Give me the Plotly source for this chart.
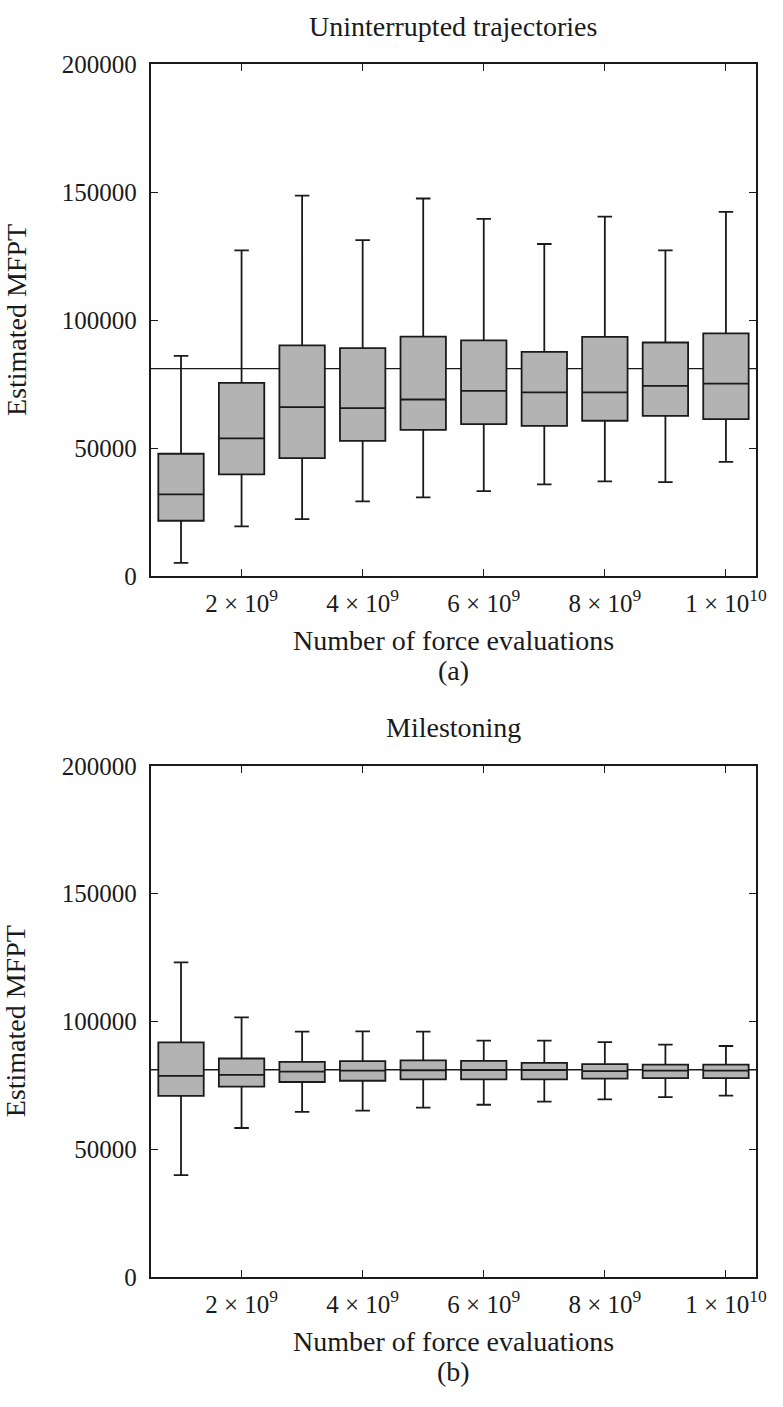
import plotly.graph_objects as go

# ---- data ----
force_evals = [1e9, 2e9, 3e9, 4e9, 5e9, 6e9, 7e9, 8e9, 9e9, 1e10]
ref_mfpt = 81100

# (a) Uninterrupted trajectories
a_lower = [5100, 19400, 22200, 29200, 30700, 33200, 35800, 37000, 36700, 44600]
a_q1 = [21600, 39700, 46100, 52800, 57100, 59400, 58700, 60700, 62600, 61300]
a_median = [31900, 53800, 66000, 65600, 69000, 72400, 71800, 71800, 74300, 75200]
a_q3 = [47800, 75500, 90200, 89100, 93600, 92100, 87600, 93500, 91300, 94900]
a_upper = [86100, 127300, 148700, 131300, 147600, 139600, 129800, 140500, 127300, 142400]

# (b) Milestoning
b_lower = [39900, 58300, 64600, 65100, 66300, 67400, 68600, 69500, 70400, 71000]
b_q1 = [70900, 74500, 76300, 76800, 77300, 77300, 77300, 77600, 77800, 77800]
b_median = [78700, 79100, 80400, 80800, 80900, 81000, 81000, 80600, 80800, 80800]
b_q3 = [91800, 85500, 84200, 84500, 84800, 84600, 83800, 83300, 83100, 83100]
b_upper = [123100, 101600, 96000, 96100, 96000, 92500, 92500, 91900, 90900, 90400]

x_tickvals = [2e9, 4e9, 6e9, 8e9, 1e10]
x_ticktext = ["2 × 10<sup>9</sup>", "4 × 10<sup>9</sup>", "6 × 10<sup>9</sup>",
              "8 × 10<sup>9</sup>", "1 × 10<sup>10</sup>"]
y_tickvals = [0, 50000, 100000, 150000, 200000]
y_ticktext = ["0", "50000", "100000", "150000", "200000"]

titles = ["Uninterrupted trajectories", "Milestoning"]
panel_labels = ["(a)", "(b)"]
x_title = "Number of force evaluations"
y_title = "Estimated MFPT"

# ---- layout constants ----
W, H = 783, 1407
FONT = "Liberation Serif, Times New Roman, serif"
INK = "#1a1a1a"
px_left, px_right = 152.7, 766.0
panels_px = [(52.5, 574.0), (767.7, 1288.7)]


def py(y):
    return 1 - y / H


fig = go.Figure()

series = [
    (a_lower, a_q1, a_median, a_q3, a_upper),
    (b_lower, b_q1, b_median, b_q3, b_upper),
]

annotations = []
shapes = []
for i, (lo, q1, med, q3, up) in enumerate(series):
    sfx = "" if i == 0 else str(i + 1)
    fig.add_trace(go.Box(
        x=force_evals, q1=q1, median=med, q3=q3,
        lowerfence=lo, upperfence=up,
        width=0.75e9, whiskerwidth=0.32,
        fillcolor="#b3b3b3",
        line=dict(color=INK, width=1.8),
        boxpoints=False, hoverinfo="skip", showlegend=False,
        xaxis="x" + sfx, yaxis="y" + sfx,
    ))
    shapes.append(dict(
        type="line", xref="x" + sfx + " domain", yref="y" + sfx,
        x0=0, x1=1, y0=ref_mfpt, y1=ref_mfpt,
        line=dict(color=INK, width=1.3), layer="below",
    ))
    top, bot = panels_px[i]
    ax = dict(
        domain=[px_left / W, px_right / W],
        range=[0.5e9, 1.05e10],
        tickvals=x_tickvals, ticktext=x_ticktext,
        ticks="inside", ticklen=7, tickwidth=1.4, tickcolor=INK,
        showline=True, linecolor=INK, linewidth=1.8, mirror="ticks",
        showgrid=False, zeroline=False, ticklabelstandoff=4,
        tickfont=dict(family=FONT, size=25, color=INK),
        anchor="y" + sfx,
    )
    ay = dict(
        domain=[py(bot), py(top)],
        range=[0, 200000],
        tickvals=y_tickvals, ticktext=y_ticktext,
        ticks="inside", ticklen=7, tickwidth=1.4, tickcolor=INK,
        showline=True, linecolor=INK, linewidth=1.8, mirror="ticks",
        showgrid=False, zeroline=False, ticklabelstandoff=7,
        tickfont=dict(family=FONT, size=25, color=INK),
        anchor="x" + sfx,
    )
    fig.update_layout({"xaxis" + sfx: ax, "yaxis" + sfx: ay})

    cx = (px_left + px_right) / 2 / W
    annotations += [
        dict(text=titles[i], x=cx, y=py(top - 39), xref="paper", yref="paper",
             showarrow=False, xanchor="center", yanchor="middle",
             font=dict(family=FONT, size=28, color=INK)),
        dict(text=x_title, x=cx, y=py(bot + 66), xref="paper", yref="paper",
             showarrow=False, xanchor="center", yanchor="middle",
             font=dict(family=FONT, size=28, color=INK)),
        dict(text=panel_labels[i], x=cx, y=py(bot + 96), xref="paper", yref="paper",
             showarrow=False, xanchor="center", yanchor="middle",
             font=dict(family=FONT, size=28, color=INK)),
        dict(text=y_title, x=16 / W, y=py((top + bot) / 2), xref="paper", yref="paper",
             showarrow=False, xanchor="center", yanchor="middle", textangle=-90,
             font=dict(family=FONT, size=28, color=INK)),
    ]

fig.update_layout(
    width=W, height=H,
    margin=dict(l=0, r=0, t=0, b=0),
    paper_bgcolor="white", plot_bgcolor="white",
    annotations=annotations, shapes=shapes,
    showlegend=False,
)

fig.write_html(
    "out.html",
    config={"displayModeBar": False},
    post_script="document.body.style.margin='0';document.body.style.overflow='hidden';",
)
